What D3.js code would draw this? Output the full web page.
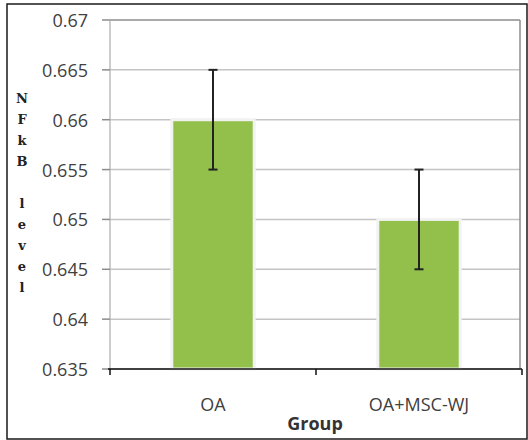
<!DOCTYPE html>
<html><head><meta charset="utf-8">
<script src="https://cdn.jsdelivr.net/npm/d3@7"></script>
<style>
html,body{margin:0;padding:0;background:#fff;}
svg{display:block;}
.tick-lab{font-family:"Open Sans",sans-serif;font-size:18px;fill:#404040;}
</style></head>
<body><svg id="chart"></svg>
<script>
'use strict';
// values
const groups=['OA','OA+MSC-WJ'];
const means=[0.660,0.650];
const errHi=[0.665,0.655];
const errLo=[0.655,0.645];
const yTicks=[0.635,0.64,0.645,0.65,0.655,0.66,0.665,0.67];
const yLabelLetters=['N','F','k','B','','l','e','v','e','l'];

const W=528,H=440;
const m={top:20,right:6,bottom:71,left:110}, w=522-m.left, h=369-m.top;
const svg=d3.select('#chart').attr('width',W).attr('height',H);

// outer frame
svg.append('rect').attr('x',7).attr('y',4).attr('width',520).attr('height',435)
  .attr('fill','none').attr('stroke','#1a1a1a').attr('stroke-width',1.5);

const g=svg.append('g').attr('transform',`translate(${m.left},${m.top})`);
const x=d3.scaleBand().domain(groups).range([0,w]).paddingInner(0.6).paddingOuter(0.3);
const y=d3.scaleLinear().domain([0.635,0.67]).range([h,0]);

// gridlines
g.selectAll('.grid').data(yTicks).join('line').attr('class','grid')
  .attr('x1',0).attr('x2',410).attr('y1',d=>y(d)).attr('y2',d=>y(d))
  .attr('stroke',d=>d===0.67?'#8c8c8c':'#c4c4c4').attr('stroke-width',1.5);
g.append('line').attr('x1',0).attr('x2',0).attr('y1',0).attr('y2',h)
  .attr('stroke','#bdbdbd').attr('stroke-width',1.5);
g.append('line').attr('x1',410).attr('x2',410).attr('y1',0).attr('y2',h)
  .attr('stroke','#8c8c8c').attr('stroke-width',1.5);

// y tick marks + labels
g.selectAll('.ytk').data(yTicks).join('line').attr('class','ytk')
  .attr('x1',-8).attr('x2',0).attr('y1',d=>y(d)).attr('y2',d=>y(d))
  .attr('stroke','#8c8c8c').attr('stroke-width',1.5);
g.selectAll('.ylab').data(yTicks).join('text').attr('class','tick-lab')
  .attr('x',-22).attr('y',d=>y(d)).attr('text-anchor','end').attr('dominant-baseline','central')
  .text(d=>d3.format('')(+d.toFixed(3)));

// bars
g.selectAll('.bar').data(groups).join('rect').attr('class','bar')
  .attr('x',d=>x(d)).attr('width',x.bandwidth())
  .attr('y',(d,i)=>y(means[i])).attr('height',(d,i)=>h-y(means[i]))
  .attr('fill','#92c04a').attr('stroke','#f2f2f2').attr('stroke-width',3);

// error bars
const cx=d=>x(d)+x.bandwidth()/2;
g.selectAll('.err').data(groups).join('line').attr('class','err')
  .attr('x1',cx).attr('x2',cx).attr('y1',(d,i)=>y(errHi[i])).attr('y2',(d,i)=>y(errLo[i]))
  .attr('stroke','#222').attr('stroke-width',2);
[errHi,errLo].forEach(arr=>{
  g.selectAll(null).data(groups).join('line')
    .attr('x1',d=>cx(d)-4.5).attr('x2',d=>cx(d)+4.5)
    .attr('y1',(d,i)=>y(arr[i])).attr('y2',(d,i)=>y(arr[i]))
    .attr('stroke','#222').attr('stroke-width',2);
});

// x axis
g.append('line').attr('x1',-2).attr('x2',w).attr('y1',h).attr('y2',h)
  .attr('stroke','#111').attr('stroke-width',1.5);
const bounds=[0,w/2,w];
g.selectAll('.xtk').data(bounds).join('line').attr('class','xtk')
  .attr('x1',d=>d).attr('x2',d=>d).attr('y1',h).attr('y2',h+6)
  .attr('stroke','#111').attr('stroke-width',1.5);
g.selectAll('.xlab').data(groups).join('text').attr('class','tick-lab')
  .attr('x',cx).attr('y',h+35).attr('text-anchor','middle').attr('dominant-baseline','central')
  .text(d=>d);

// axis titles
svg.append('text').attr('x',315).attr('y',423).attr('text-anchor','middle')
  .attr('dominant-baseline','central')
  .style('font-family','"Open Sans",sans-serif').style('font-size','18px')
  .style('font-weight','bold').style('fill','#333').text('Group');
svg.append('text').selectAll('tspan').data(yLabelLetters).join('tspan')
  .attr('x',22).attr('y',(d,i)=>98+i*21)
  .attr('text-anchor','middle').attr('dominant-baseline','central')
  .style('font-family','"DejaVu Serif",serif').style('font-size','13px')
  .style('font-weight','bold').style('fill','#222').text(d=>d);
</script></body></html>
